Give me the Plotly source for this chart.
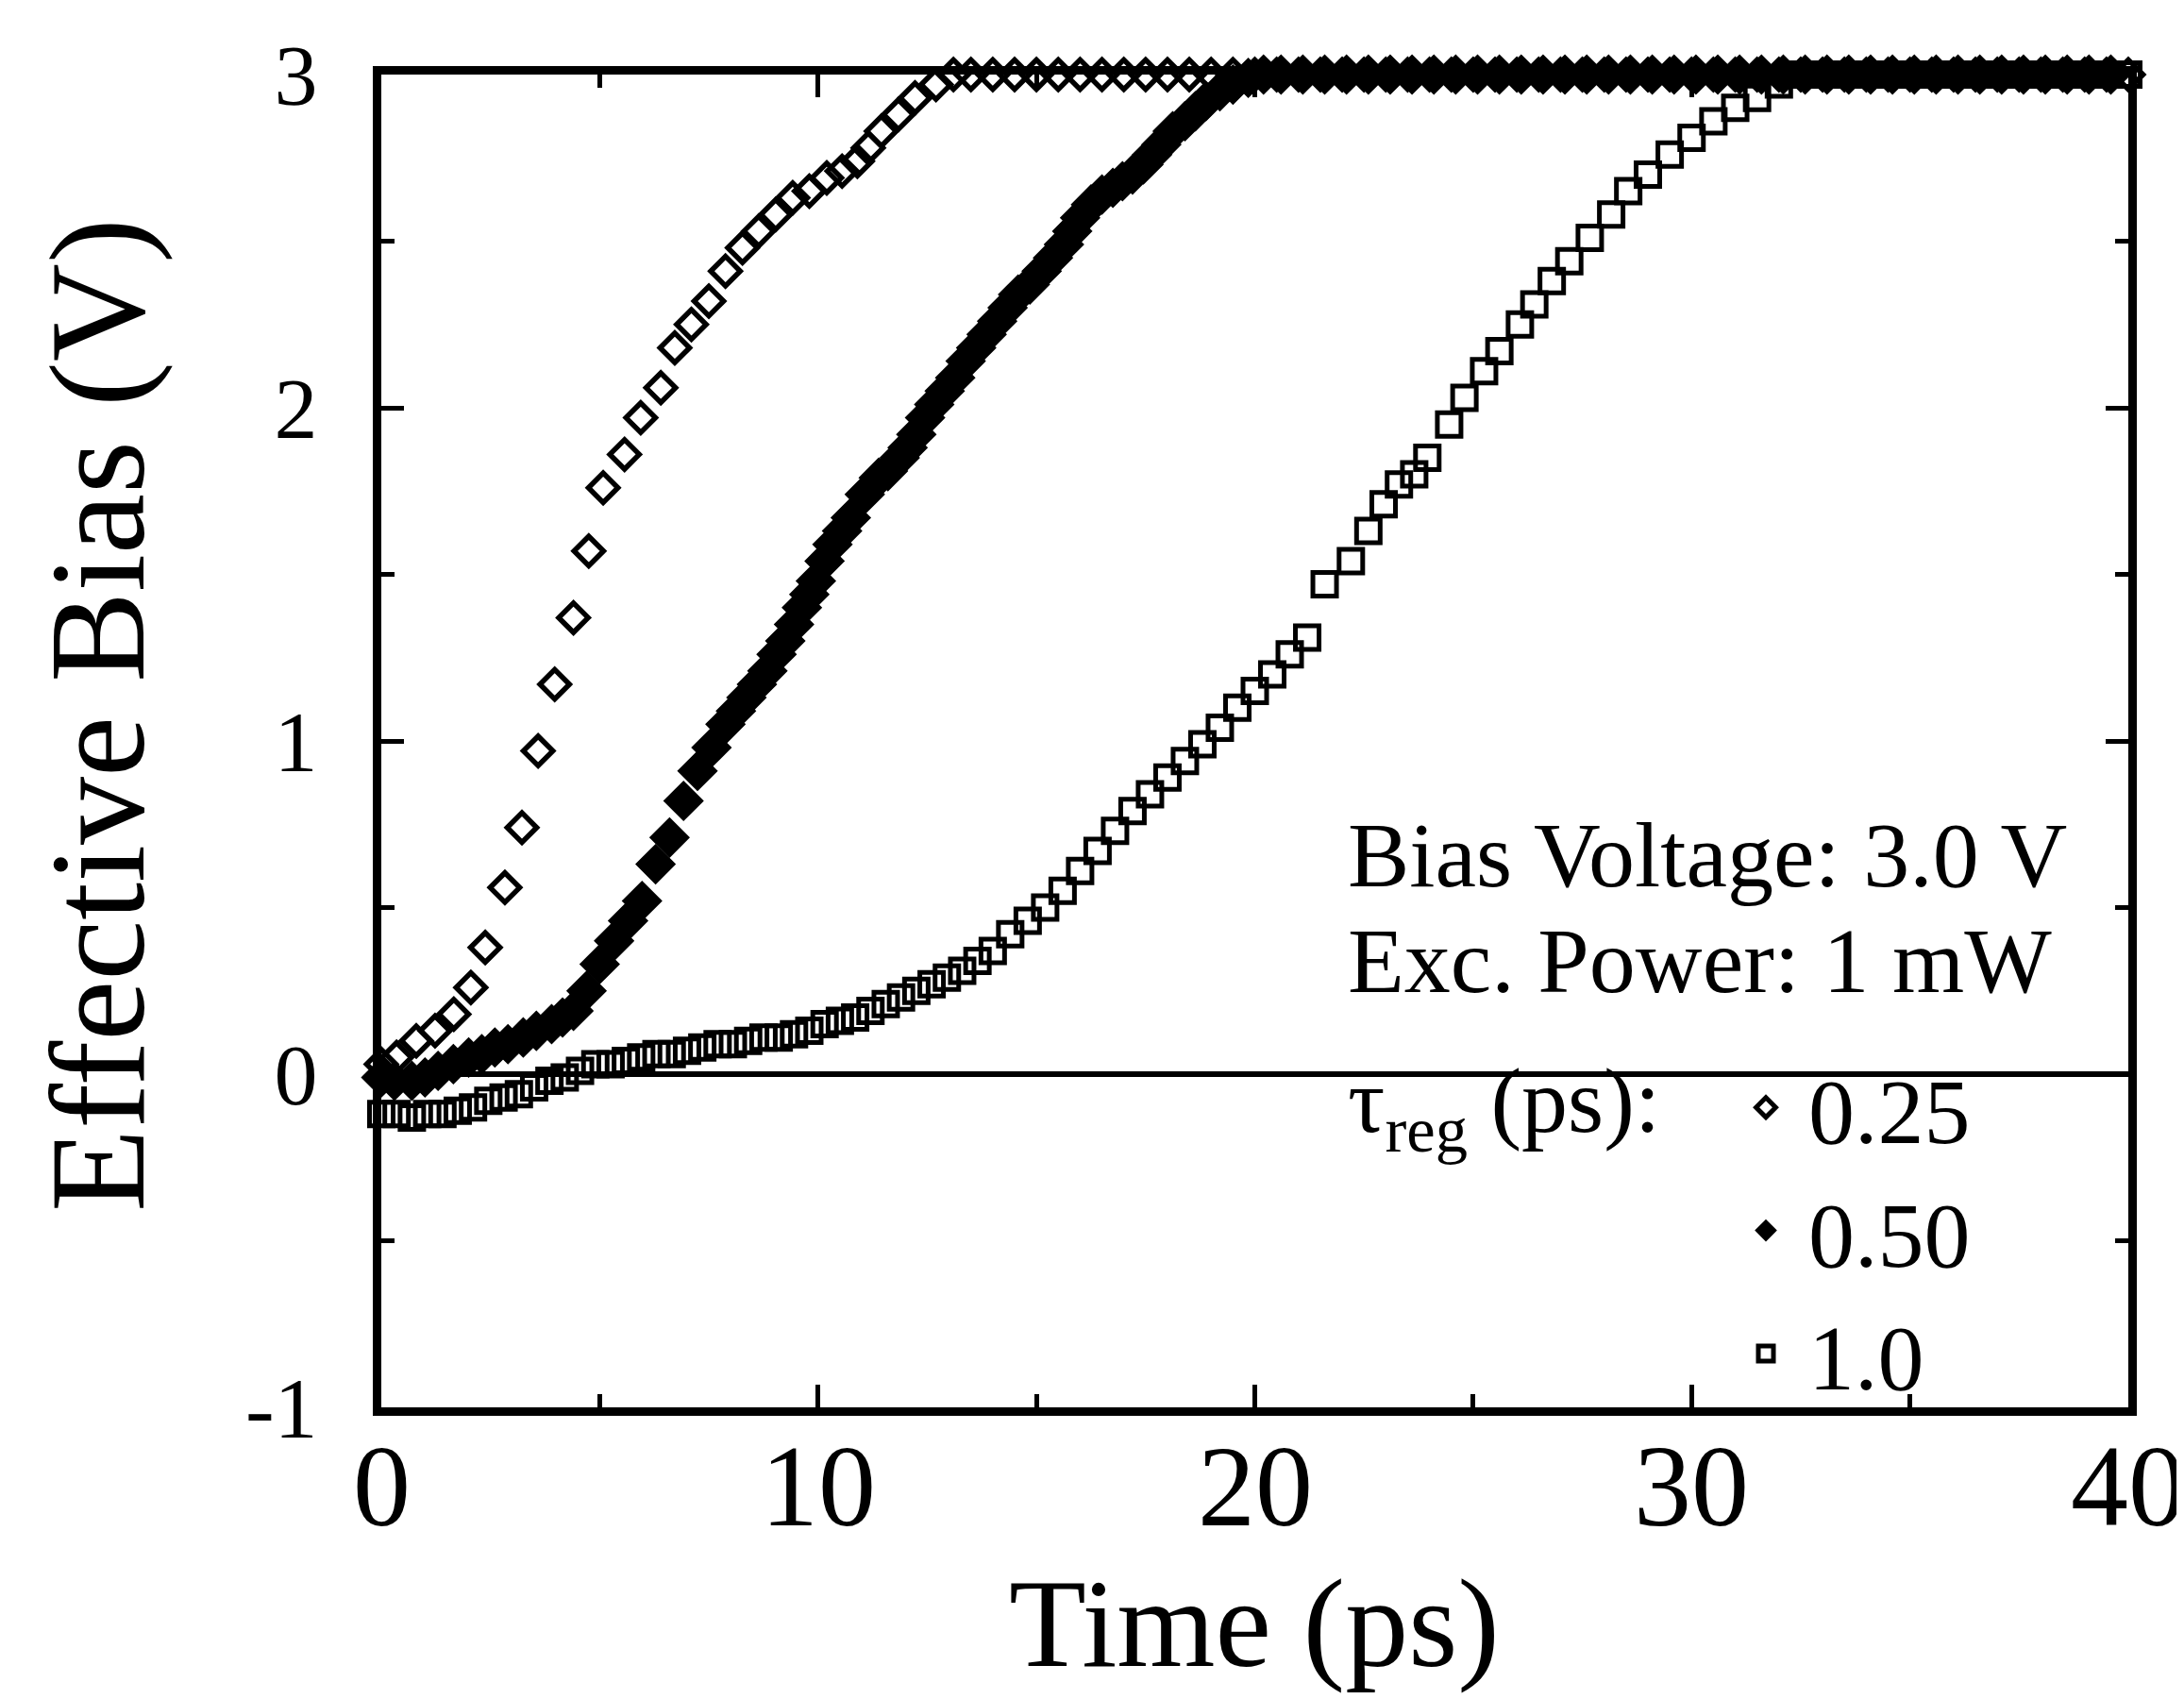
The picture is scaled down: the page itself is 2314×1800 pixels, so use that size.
import plotly.graph_objects as go

# ---------------- data ----------------
# tau_reg = 0.25 ps (open diamonds)
T_025 = [0.0, 0.35, 0.8, 1.23, 1.66, 2.05, 2.38, 2.83, 3.22, 3.59, 3.97, 4.4, 4.75, 5.08,
         5.57, 5.94, 6.4, 6.72, 7.1, 7.5, 7.88, 8.27, 8.64, 9.03, 9.42, 9.8, 10.2, 10.55,
         10.9, 11.15, 11.45, 11.84, 12.22, 12.7, 13.1,
         13.5, 14.0, 14.5, 15.0, 15.5, 16.0, 16.5, 17.0, 17.5, 18.0, 18.5, 19.0, 19.5, 20.0,
         20.5, 21.0, 21.5, 22.0, 22.5, 23.0, 23.5, 24.0, 24.5, 25.0, 25.5, 26.0, 26.5, 27.0,
         27.5, 28.0, 28.5, 29.0, 29.5, 30.0, 30.5, 31.0, 31.5, 32.0, 32.5, 33.0, 33.5, 34.0,
         34.5, 35.0, 35.5, 36.0, 36.5, 37.0, 37.5, 38.0, 38.5, 39.0, 39.5, 40.0]
V_025 = [0.03, 0.05, 0.1, 0.13, 0.18, 0.26, 0.38, 0.56, 0.74, 0.97, 1.17, 1.37, 1.57, 1.76,
         1.86, 1.97, 2.06, 2.18, 2.25, 2.32, 2.41, 2.48, 2.53, 2.58, 2.63, 2.65, 2.69, 2.71,
         2.74, 2.78, 2.83, 2.88, 2.93, 2.97, 3.0,
         3.0, 3.0, 3.0, 3.0, 3.0, 3.0, 3.0, 3.0, 3.0, 3.0, 3.0, 3.0, 3.0, 3.0,
         3.0, 3.0, 3.0, 3.0, 3.0, 3.0, 3.0, 3.0, 3.0, 3.0, 3.0, 3.0, 3.0, 3.0,
         3.0, 3.0, 3.0, 3.0, 3.0, 3.0, 3.0, 3.0, 3.0, 3.0, 3.0, 3.0, 3.0, 3.0,
         3.0, 3.0, 3.0, 3.0, 3.0, 3.0, 3.0, 3.0, 3.0, 3.0, 3.0, 3.0]

# tau_reg = 0.50 ps (filled diamonds)
T_050 = [0.0, 0.3, 0.7, 1.0, 1.3, 1.65, 2.0, 2.3, 2.6, 2.9, 3.25, 3.55, 3.9, 4.15, 4.4, 4.7,
         5.0, 5.33, 5.65, 5.97, 6.28, 6.6, 6.92, 7.24, 7.56, 7.88, 8.12, 8.36, 8.6, 8.84,
         9.05, 9.25, 9.45, 9.63, 9.8, 9.95, 10.15, 10.33, 10.55, 10.75, 11.07, 11.39, 11.6,
         11.87, 12.05, 12.25, 12.45, 12.66, 12.9, 13.14, 13.38, 13.62, 13.86, 14.1, 14.34,
         14.58, 14.85, 15.12, 15.38, 15.63, 15.82, 16.0, 16.25, 16.5, 16.75, 16.97, 17.2,
         17.45, 17.65, 17.86, 18.12, 18.4, 18.64, 18.88, 19.2, 19.5, 19.85, 20.2,
         20.6, 21.1, 21.6, 22.1, 22.6, 23.1, 23.6, 24.1, 24.6, 25.1, 25.6, 26.1, 26.6,
         27.1, 27.6, 28.1, 28.6, 29.1, 29.6, 30.1, 30.6, 31.1, 31.6, 32.1, 32.6, 33.1,
         33.6, 34.1, 34.6, 35.1, 35.6, 36.1, 36.6, 37.1, 37.6, 38.1, 38.6, 39.1, 39.6]
V_050 = [-0.01, -0.02, -0.02, -0.01, 0.01, 0.03, 0.05, 0.06, 0.08, 0.09, 0.11, 0.13, 0.15,
         0.17, 0.19, 0.25, 0.33, 0.4, 0.46, 0.52, 0.63, 0.71, 0.82, 0.91, 0.98, 1.05, 1.09,
         1.13, 1.17, 1.21, 1.26, 1.3, 1.35, 1.4, 1.44, 1.48, 1.54, 1.59, 1.63, 1.67, 1.74,
         1.79, 1.81, 1.85, 1.88, 1.92, 1.97, 2.01, 2.05, 2.09, 2.14, 2.18, 2.22, 2.26, 2.3,
         2.34, 2.37, 2.41, 2.45, 2.49, 2.53, 2.57, 2.61, 2.64, 2.66, 2.68, 2.7, 2.73, 2.76,
         2.79, 2.83, 2.86, 2.89, 2.92, 2.95, 2.97, 2.99, 3.0,
         3.0, 3.0, 3.0, 3.0, 3.0, 3.0, 3.0, 3.0, 3.0, 3.0, 3.0, 3.0, 3.0,
         3.0, 3.0, 3.0, 3.0, 3.0, 3.0, 3.0, 3.0, 3.0, 3.0, 3.0, 3.0, 3.0,
         3.0, 3.0, 3.0, 3.0, 3.0, 3.0, 3.0, 3.0, 3.0, 3.0, 3.0, 3.0, 3.0]

# tau_reg = 1.0 ps (open squares)
T_100 = [0.0, 0.35, 0.7, 1.05, 1.4, 1.75, 2.1, 2.45, 2.8, 3.15, 3.5, 3.85, 4.2, 4.55, 4.9,
         5.25, 5.6, 5.95, 6.3, 6.65, 7.0, 7.35, 7.7, 8.05, 8.4, 8.75, 9.1, 9.45, 9.8, 10.15,
         10.5, 10.85, 11.2, 11.55, 11.9, 12.25, 12.6, 12.95, 13.3, 13.65, 14.0, 14.4, 14.8,
         15.2, 15.6, 16.0, 16.4, 16.8, 17.2, 17.6, 18.0, 18.4, 18.8, 19.2, 19.6, 20.0, 20.4,
         20.8, 21.2, 21.6, 22.2, 22.6, 22.95, 23.3, 23.65, 23.95, 24.45, 24.8, 25.25, 25.6,
         26.07, 26.4, 26.8, 27.2, 27.67, 28.16, 28.55, 29.0, 29.5, 30.0, 30.5, 31.0, 31.5,
         32.0, 32.5,
         33.0, 33.5, 34.0, 34.5, 35.0, 35.5, 36.0, 36.5, 37.0, 37.5, 38.0, 38.5, 39.0, 39.5,
         40.0]
V_100 = [-0.12, -0.12, -0.13, -0.12, -0.12, -0.11, -0.1, -0.08, -0.07, -0.06, -0.04, -0.02,
         -0.01, 0.01, 0.03, 0.03, 0.04, 0.05, 0.06, 0.06, 0.07, 0.08, 0.09, 0.09, 0.1, 0.11,
         0.11, 0.12, 0.13, 0.15, 0.16, 0.17, 0.19, 0.21, 0.23, 0.25, 0.27, 0.29, 0.31, 0.34,
         0.37, 0.42, 0.46, 0.5, 0.55, 0.61, 0.67, 0.73, 0.79, 0.84, 0.89, 0.94, 0.99, 1.04,
         1.1, 1.15, 1.2, 1.26, 1.31, 1.47, 1.54, 1.63, 1.71, 1.77, 1.8, 1.85, 1.95, 2.03,
         2.11, 2.17, 2.25, 2.31, 2.38, 2.44, 2.51, 2.58, 2.65, 2.7, 2.76, 2.81, 2.86, 2.9,
         2.93, 2.97, 3.0,
         3.0, 3.0, 3.0, 3.0, 3.0, 3.0, 3.0, 3.0, 3.0, 3.0, 3.0, 3.0, 3.0, 3.0,
         3.0]

SERIES_NAMES = ["0.25", "0.50", "1.0"]
X_TICKS = [0, 10, 20, 30, 40]
X_TICK_TEXT = ["0", "10", "20", "30", "40"]
Y_TICKS = [-1, 0, 1, 2, 3]
Y_TICK_TEXT = ["-1", "0", "1", "2", "3"]

# ---------------- layout constants ----------------
W, H = 2314, 1800
ML, MR, MT, MB = 396, 67, 71, 317
PW, PH = W - ML - MR, H - MT - MB
FONT = "Liberation Serif, Times New Roman, serif"


def px_x(p):
    return (p - ML) / PW


def px_y(p):
    return (H - MB - p) / PH


fig = go.Figure()

fig.add_trace(go.Scatter(
    x=T_025, y=V_025, mode="markers", name=SERIES_NAMES[0], cliponaxis=False,
    marker=dict(symbol="diamond-open", size=24, color="black", line=dict(width=5.5, color="black")),
))
fig.add_trace(go.Scatter(
    x=T_050, y=V_050, mode="markers", name=SERIES_NAMES[1], cliponaxis=False,
    marker=dict(symbol="diamond", size=31, color="black", line=dict(width=2, color="black")),
))
fig.add_trace(go.Scatter(
    x=T_100, y=V_100, mode="markers", name=SERIES_NAMES[2], cliponaxis=False,
    marker=dict(symbol="square-open", size=25, color="black", line=dict(width=5, color="black")),
))

axis_common = dict(
    showline=True, linewidth=9, linecolor="black", mirror="allticks",
    ticks="inside", ticklen=24, tickwidth=5, tickcolor="black",
    showgrid=False,
)

fig.update_xaxes(
    range=[0, 40], tickvals=X_TICKS, zeroline=False, showticklabels=False,
    minor=dict(dtick=5, ticks="inside", ticklen=14, tickwidth=5, tickcolor="black", showgrid=False),
    **axis_common,
)
fig.update_yaxes(
    range=[-1, 3], tickvals=Y_TICKS, ticktext=Y_TICK_TEXT,
    zeroline=True, zerolinecolor="black", zerolinewidth=6,
    tickfont=dict(family=FONT, size=92, color="black"),
    ticklabelstandoff=40,
    minor=dict(dtick=0.5, ticks="inside", ticklen=14, tickwidth=5, tickcolor="black", showgrid=False),
    **axis_common,
)

annotations = [
    dict(text="Effective Bias (V)", textangle=-90, xref="paper", yref="paper",
         x=px_x(95), y=px_y(750), xanchor="center", yanchor="middle", showarrow=False,
         font=dict(family=FONT, size=144, color="black")),
    dict(text="Time (ps)", xref="paper", yref="paper",
         x=px_x(1321), y=px_y(1712), xanchor="center", yanchor="middle", showarrow=False,
         font=dict(family=FONT, size=134, color="black")),
    dict(text="Bias Voltage: 3.0 V", xref="paper", yref="paper",
         x=px_x(1418), y=px_y(898), xanchor="left", yanchor="middle", showarrow=False,
         font=dict(family=FONT, size=98, color="black")),
    dict(text="Exc. Power: 1 mW", xref="paper", yref="paper",
         x=px_x(1418), y=px_y(1010), xanchor="left", yanchor="middle", showarrow=False,
         font=dict(family=FONT, size=98, color="black")),
    dict(text="τ<sub>reg</sub> (ps):", xref="paper", yref="paper",
         x=px_x(1418), y=px_y(1165), xanchor="left", yanchor="middle", showarrow=False,
         font=dict(family=FONT, size=98, color="black")),
]
# x tick labels drawn as text at the tick values
for v, s in zip(X_TICKS, X_TICK_TEXT):
    annotations.append(dict(
        text=s, xref="x", yref="paper", x=v, y=px_y(1566),
        xanchor="center", yanchor="middle", showarrow=False,
        font=dict(family=FONT, size=122, color="black")))

fig.update_layout(
    width=W, height=H,
    margin=dict(l=ML, r=MR, t=MT, b=MB, autoexpand=False),
    paper_bgcolor="white", plot_bgcolor="white",
    annotations=annotations,
    showlegend=True,
    legend=dict(
        x=px_x(1818), y=px_y(1095), xanchor="left", yanchor="top",
        bgcolor="rgba(0,0,0,0)", borderwidth=0,
        font=dict(family=FONT, size=98, color="black"),
        itemwidth=80, tracegroupgap=0,
    ),
)

fig.write_html("out.html")
